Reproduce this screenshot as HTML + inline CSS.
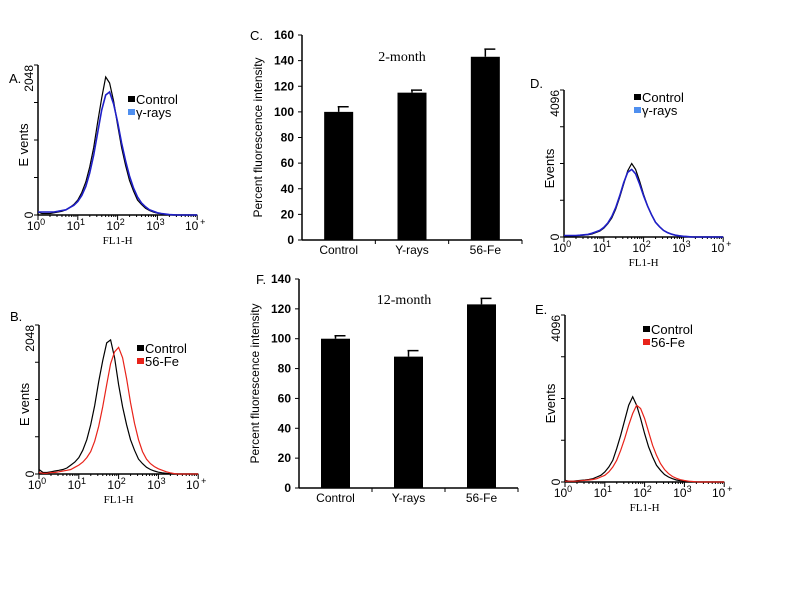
<!DOCTYPE html>
<html><head><meta charset="utf-8"><style>
html,body{margin:0;padding:0;background:#fff;}
svg{display:block;font-family:"Liberation Sans",sans-serif;}
</style></head><body>
<svg id="fig" width="800" height="600" viewBox="0 0 800 600"></svg>
<script>
// ---- data ----
const logSteps = [0,0.1,0.2,0.3,0.4,0.5,0.6,0.7,0.8,0.9,1.0,1.1,1.2,1.3,1.4,1.5,1.6,1.7,1.8,1.9,2.0,2.1,2.2,2.3,2.4,2.5,2.6,2.7,2.8,2.9,3.0,3.1,3.2,3.3,3.4,3.5,3.6,3.7,3.8,3.9,4.0];
const ctrlA = [0.02,0.01,0.01,0.01,0.015,0.02,0.025,0.035,0.05,0.07,0.10,0.15,0.22,0.32,0.45,0.62,0.78,0.92,0.88,0.76,0.60,0.45,0.33,0.23,0.16,0.10,0.07,0.045,0.03,0.02,0.012,0.008,0.005,0.002,0,0,0,0,0,0,0];
const gamA = [0.02,0.02,0.02,0.02,0.02,0.025,0.03,0.035,0.05,0.065,0.09,0.13,0.19,0.28,0.40,0.55,0.70,0.80,0.82,0.74,0.62,0.48,0.36,0.26,0.18,0.12,0.08,0.055,0.035,0.025,0.015,0.01,0.006,0.003,0.001,0,0,0,0,0,0];
const ctrlB = [0.03,0.01,0.01,0.015,0.02,0.025,0.03,0.04,0.06,0.08,0.11,0.16,0.23,0.33,0.46,0.62,0.76,0.88,0.90,0.78,0.60,0.45,0.33,0.23,0.16,0.10,0.07,0.045,0.03,0.02,0.012,0.008,0.005,0.002,0,0,0,0,0,0,0];
const feB = [0.01,0.005,0.005,0.01,0.01,0.015,0.02,0.025,0.03,0.045,0.06,0.08,0.11,0.15,0.22,0.32,0.45,0.60,0.74,0.82,0.85,0.78,0.64,0.48,0.34,0.23,0.15,0.10,0.07,0.05,0.035,0.025,0.015,0.008,0.003,0,0,0,0,0,0];
const ctrlD = [0.01,0.005,0.005,0.008,0.01,0.012,0.015,0.02,0.03,0.04,0.06,0.09,0.13,0.19,0.27,0.36,0.45,0.50,0.46,0.38,0.29,0.21,0.15,0.10,0.07,0.045,0.03,0.02,0.012,0.008,0.005,0.003,0.001,0,0,0,0,0,0,0,0];
const gamD = [0.01,0.01,0.01,0.01,0.012,0.015,0.018,0.025,0.035,0.045,0.065,0.095,0.14,0.20,0.28,0.37,0.44,0.46,0.43,0.36,0.28,0.21,0.15,0.10,0.07,0.045,0.03,0.02,0.012,0.008,0.005,0.003,0.001,0,0,0,0,0,0,0,0];
const ctrlE = [0.01,0.005,0.005,0.008,0.01,0.012,0.015,0.02,0.03,0.04,0.06,0.09,0.13,0.20,0.28,0.37,0.46,0.51,0.46,0.38,0.29,0.21,0.15,0.10,0.07,0.045,0.03,0.02,0.012,0.008,0.005,0.003,0.001,0,0,0,0,0,0,0,0];
const feE = [0.005,0.005,0.005,0.005,0.008,0.01,0.012,0.015,0.02,0.03,0.04,0.06,0.09,0.13,0.19,0.26,0.34,0.41,0.46,0.44,0.38,0.30,0.22,0.16,0.11,0.075,0.05,0.033,0.022,0.014,0.009,0.005,0.003,0.001,0,0,0,0,0,0,0];
const barCats = ["Control","Y-rays","56-Fe"];
const vals2m = [100,115,143];
const err2m = [4,2,6];
const vals12m = [100,88,123];
const err12m = [2,4,4];
const ticks2m = [0,20,40,60,80,100,120,140,160];
const ticks12m = [0,20,40,60,80,100,120,140];

const NS="http://www.w3.org/2000/svg";
const svg=document.getElementById('fig');
function mk(tag,attrs,parent,text){const e=document.createElementNS(NS,tag);for(const k in attrs)e.setAttribute(k,attrs[k]);if(text!==undefined)e.textContent=text;(parent||svg).appendChild(e);return e;}

function histo(p){
  const g=mk('g',{});
  
  
  const X=l=>p.x0+l*p.dec, Y=f=>p.yb-f*(p.yb-p.yt);
  mk('line',{x1:p.x0,y1:p.yt,x2:p.x0,y2:p.yb,stroke:'#000','stroke-width':1.5},g);
  mk('line',{x1:p.x0,y1:p.yb,x2:X(4),y2:p.yb,stroke:'#000','stroke-width':1.5},g);
  for(let i=0;i<=4;i++){mk('line',{x1:p.x0-4,y1:Y(i/4),x2:p.x0,y2:Y(i/4),stroke:'#000'},g);}
  for(let d=0;d<4;d++){for(let m=1;m<=9;m++){const xx=X(d+Math.log10(m));mk('line',{x1:xx,y1:p.yb,x2:xx,y2:p.yb+(m==1?5:2),stroke:'#000'},g);}}
  mk('line',{x1:X(4),y1:p.yb,x2:X(4),y2:p.yb+5,stroke:'#000'},g);
  for(let d=0;d<=4;d++){
    const t=mk('text',{x:X(d)-2,y:p.yb+15,'font-size':12,'text-anchor':'middle','font-family':'Liberation Sans,sans-serif'},g);
    
    
    mk('tspan',{},t,'10');mk('tspan',{dy:-5,'font-size':9},t,d==4?'\u2009+':String(d));
  }
  const fl=mk('text',{x:X(2),y:p.yb+29,'font-size':11,'text-anchor':'middle','font-family':'Liberation Serif,serif'},g,'FL1-H');
  
  
  const ymax=mk('text',{transform:`translate(${p.x0-5},${p.yt}) rotate(-90)`,'font-size':12,'text-anchor':'end'},g,p.ymax);
  
  
  const y0=mk('text',{transform:`translate(${p.x0-5},${p.yb}) rotate(-90)`,'font-size':12,'text-anchor':'middle'},g,'0');
  
  
  const ev=mk('text',{transform:`translate(${p.x0-10},${(p.yt+p.yb)/2+5}) rotate(-90)`,'font-size':13,'text-anchor':'middle'},g,p.evText);
  
  
  const pl=mk('text',{x:p.lx,y:p.ly,'font-size':13},g,p.label);
  
  
  p.series.forEach(s=>{
    const pts=logSteps.map((l,i)=>X(l).toFixed(1)+','+Y(s.data[i]).toFixed(1)).join(' ');
    const pe=mk('polyline',{points:pts,fill:'none',stroke:s.color,'stroke-width':s.w||1.2},g);
    
    
  });
  p.series.forEach((s,i)=>{
    const r=mk('rect',{x:p.legx,y:p.legy-8+i*13,width:7,height:6,fill:s.legColor},g);
    
    
    const t=mk('text',{x:p.legx+8,y:p.legy+i*13,'font-size':13},g,s.legend);
    
    
  });
}
histo({name:'panel-a-histogram',x0:38,dec:39.8,yt:65,yb:215,ymax:'2048',evText:'E vents',label:'A.',lx:9,ly:83,legx:128,legy:104,
  series:[{data:ctrlA,color:'#000',legColor:'#000',legend:'Control',name:'control-line'},{data:gamA,color:'#1f1fc8',legColor:'#4f8fef',legend:'\u03b3-rays',name:'gamma-line',w:1.6}]});
histo({name:'panel-b-histogram',x0:39,dec:39.8,yt:325,yb:474,ymax:'2048',evText:'E vents',label:'B.',lx:10,ly:321,legx:137,legy:353,
  series:[{data:ctrlB,color:'#000',legColor:'#000',legend:'Control',name:'control-line'},{data:feB,color:'#e8231a',legColor:'#e8231a',legend:'56-Fe',name:'fe-line'}]});
histo({name:'panel-d-histogram',x0:564,dec:39.8,yt:90,yb:237,ymax:'4096',evText:'Events',label:'D.',lx:530,ly:88,legx:634,legy:102,
  series:[{data:ctrlD,color:'#000',legColor:'#000',legend:'Control',name:'control-line'},{data:gamD,color:'#1f1fc8',legColor:'#4f8fef',legend:'\u03b3-rays',name:'gamma-line',w:1.6}]});
histo({name:'panel-e-histogram',x0:565,dec:39.8,yt:315,yb:482,ymax:'4096',evText:'Events',label:'E.',lx:535,ly:314,legx:643,legy:334,
  series:[{data:ctrlE,color:'#000',legColor:'#000',legend:'Control',name:'control-line'},{data:feE,color:'#e8231a',legColor:'#e8231a',legend:'56-Fe',name:'fe-line'}]});

function bars(p){
  const g=mk('g',{});
  
  
  const Y=v=>p.yb-v/p.max*(p.yb-p.yt);
  const slot=(p.xr-p.x0)/barCats.length;
  mk('line',{x1:p.x0,y1:p.yt,x2:p.x0,y2:p.yb,stroke:'#000','stroke-width':1.5},g);
  mk('line',{x1:p.x0,y1:p.yb,x2:p.xr,y2:p.yb,stroke:'#000','stroke-width':1.5},g);
  p.ticks.forEach(t=>{
    mk('line',{x1:p.x0-4,y1:Y(t),x2:p.x0,y2:Y(t),stroke:'#000'},g);
    const tl=mk('text',{x:p.x0-8,y:Y(t)+4,'font-size':12,'font-weight':'bold','text-anchor':'end'},g,String(t));
    
    
  });
  for(let i=1;i<=barCats.length;i++){mk('line',{x1:p.x0+i*slot,y1:p.yb,x2:p.x0+i*slot,y2:p.yb+4,stroke:'#000'},g);}
  barCats.forEach((c,i)=>{
    const cx=p.x0+(i+0.5)*slot;
    const b=mk('rect',{x:cx-14.5,y:Y(p.vals[i]),width:29,height:p.yb-Y(p.vals[i]),fill:'#000'},g);
    
    
    const e=mk('path',{d:`M${cx},${Y(p.vals[i])} V${Y(p.vals[i]+p.errs[i])} M${cx-1},${Y(p.vals[i]+p.errs[i])} H${cx+10}`,stroke:'#000','stroke-width':1.5,fill:'none'},g);
    
    
    const t=mk('text',{x:cx,y:p.yb+14,'font-size':12,'text-anchor':'middle'},g,c);
    
    
  });
  const yt=mk('text',{transform:`translate(${p.x0-40},${(p.yt+p.yb)/2}) rotate(-90)`,'font-size':12,'text-anchor':'middle'},g,'Percent fluorescence intensity');
  
  
  const ti=mk('text',{x:p.tx,y:p.ty,'font-size':14,'text-anchor':'middle','font-family':'Liberation Serif,serif'},g,p.title);
  
  
  const pl=mk('text',{x:p.lx,y:p.ly,'font-size':13},g,p.label);
  
  
}
bars({name:'panel-c-bar-chart',x0:302,xr:522,yt:35,yb:240,max:160,ticks:ticks2m,vals:vals2m,errs:err2m,title:'2-month',tx:402,ty:61,label:'C.',lx:250,ly:40});
bars({name:'panel-f-bar-chart',x0:299,xr:518,yt:279,yb:488,max:140,ticks:ticks12m,vals:vals12m,errs:err12m,title:'12-month',tx:404,ty:304,label:'F.',lx:256,ly:284});
</script>
</body></html>
